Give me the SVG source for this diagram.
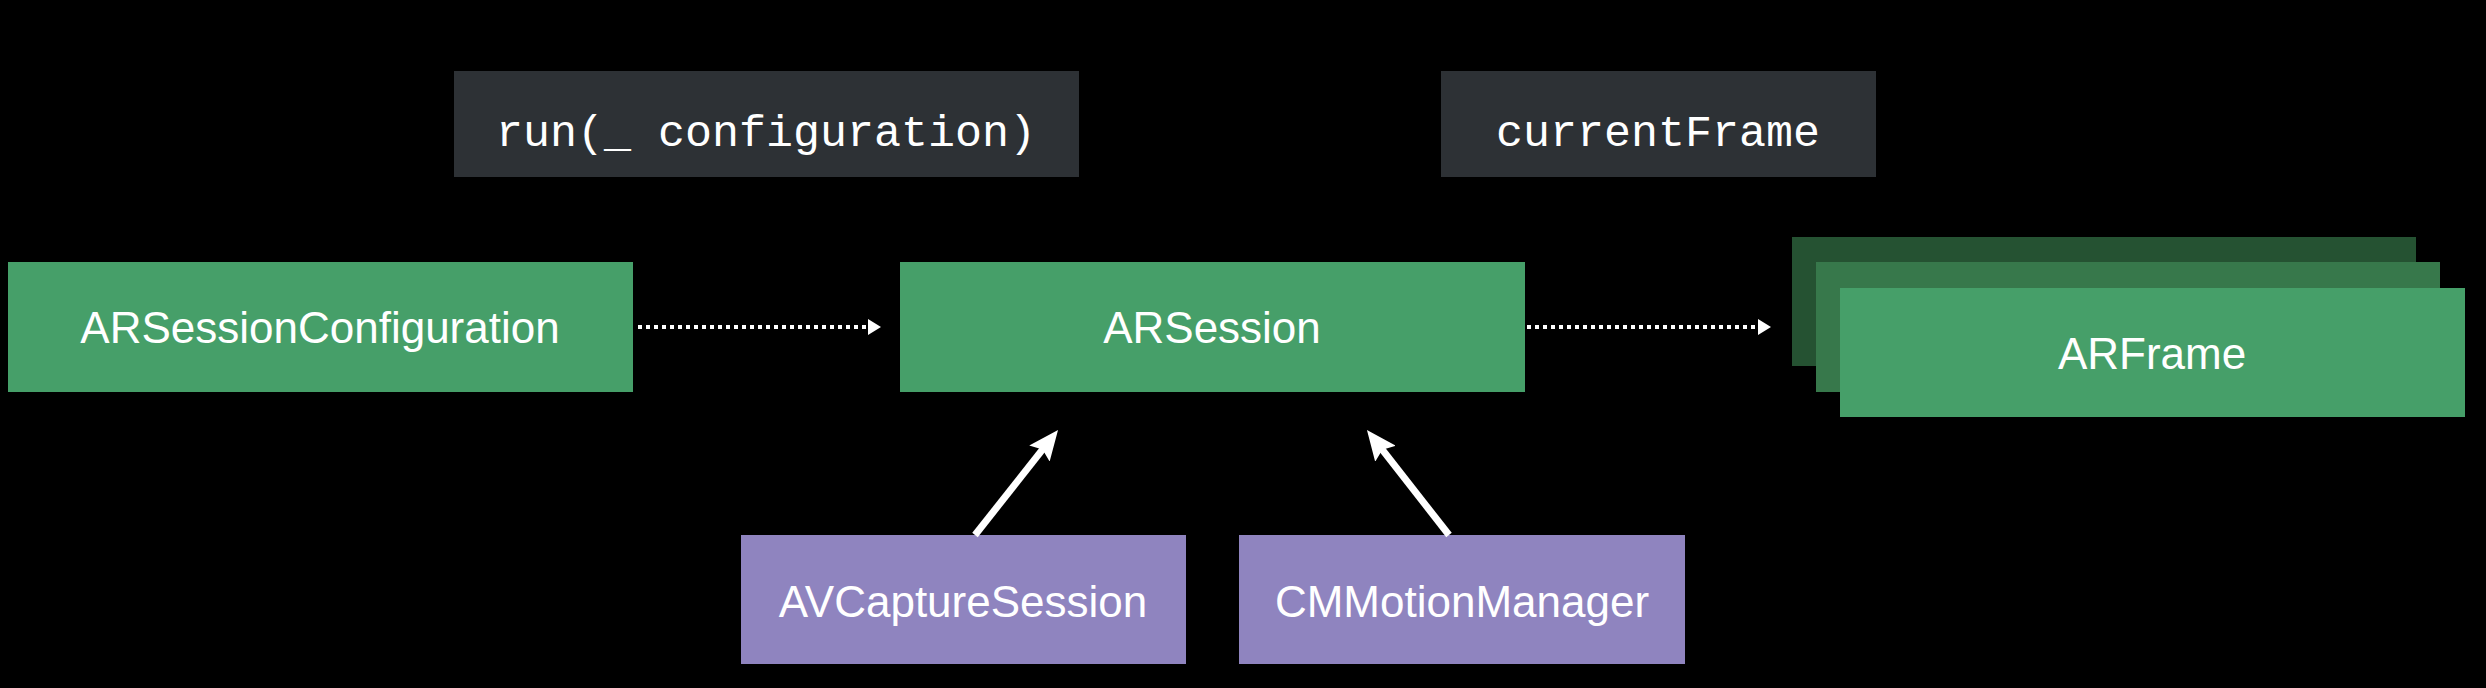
<svg xmlns="http://www.w3.org/2000/svg" width="2486" height="688" viewBox="0 0 2486 688">
<defs>
<style>
.code{fill:#2d3135}
.green{fill:#469f69}
.purple{fill:#8f84bf}
.lbl{font-family:"Liberation Sans",Arial,sans-serif;font-size:44px;fill:#ffffff;text-anchor:middle}
.mono{font-family:"Liberation Mono","DejaVu Sans Mono",monospace;font-size:45px;fill:#ffffff;text-anchor:middle}
.dot{stroke:#ffffff;stroke-width:4;stroke-dasharray:4 4;fill:none}
.solid{stroke:#ffffff;stroke-width:7;fill:none}
</style>
<marker id="dhead" viewBox="0 0 13 16" refX="0" refY="8" markerWidth="13" markerHeight="16" markerUnits="userSpaceOnUse" orient="auto">
<path d="M0,0 L13,8 L0,16 z" fill="#ffffff"/>
</marker>
<marker id="shead" viewBox="0 0 30 26" refX="8" refY="13" markerWidth="30" markerHeight="26" markerUnits="userSpaceOnUse" orient="auto">
<path d="M0,0 L30,13 L0,26 L5,13 z" fill="#ffffff"/>
</marker>
</defs>
<rect width="2486" height="688" fill="#000000"/>
<g id="run">
<rect class="code" x="454" y="71" width="625" height="106"/>
<text class="mono" x="766" y="146">run(_ configuration)</text>
</g>
<g id="currentFrame">
<rect class="code" x="1441" y="71" width="435" height="106"/>
<text class="mono" x="1658" y="146">currentFrame</text>
</g>
<g id="ARSessionConfiguration">
<rect class="green" x="8" y="262" width="625" height="130"/>
<text class="lbl" x="320" y="343">ARSessionConfiguration</text>
</g>
<g id="ARSession">
<rect class="green" x="900" y="262" width="625" height="130"/>
<text class="lbl" x="1212" y="343">ARSession</text>
</g>
<g id="ARFrame">
<rect x="1792" y="237" width="624" height="129" fill="#255232"/>
<rect x="1816" y="262" width="624" height="130" fill="#37784b"/>
<rect class="green" x="1840" y="288" width="625" height="129"/>
<text class="lbl" x="2152" y="369">ARFrame</text>
</g>
<g id="AVCaptureSession">
<rect class="purple" x="741" y="535" width="445" height="129"/>
<text class="lbl" x="963" y="617">AVCaptureSession</text>
</g>
<g id="CMMotionManager">
<rect class="purple" x="1239" y="535" width="446" height="129"/>
<text class="lbl" x="1462" y="617">CMMotionManager</text>
</g>
<g id="connectors">
<line class="dot" x1="638" y1="327" x2="868" y2="327" marker-end="url(#dhead)"/>
<line class="dot" x1="1527" y1="327" x2="1758" y2="327" marker-end="url(#dhead)"/>
<line class="solid" x1="975" y1="535" x2="1044.4" y2="447.2" marker-end="url(#shead)"/>
<line class="solid" x1="1449" y1="535" x2="1380.5" y2="447.4" marker-end="url(#shead)"/>
</g>
</svg>
